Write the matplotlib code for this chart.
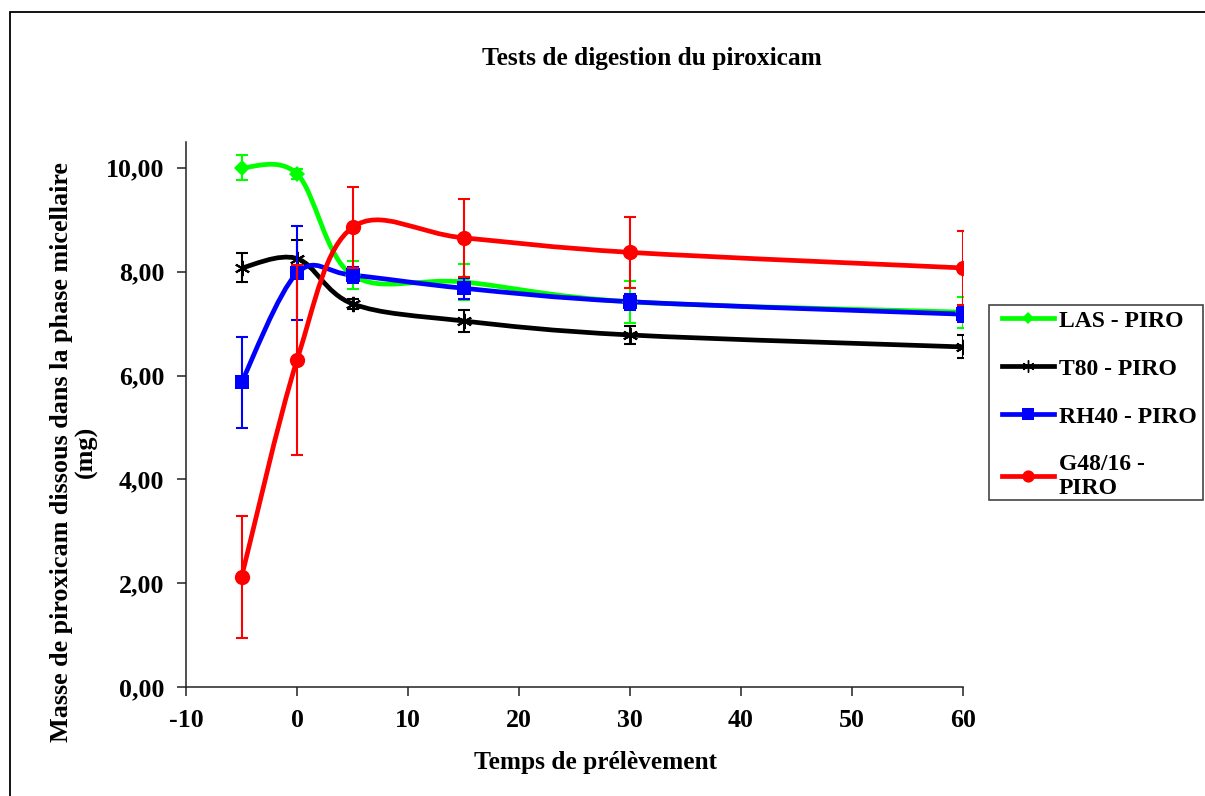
import numpy as np
import matplotlib.pyplot as plt
from matplotlib.path import Path
from matplotlib.patches import PathPatch, Rectangle
from matplotlib.lines import Line2D
from matplotlib.ticker import FuncFormatter

plt.rcParams['font.family'] = ['Liberation Serif', 'DejaVu Serif']
plt.rcParams['font.weight'] = 'bold'
plt.rcParams['axes.unicode_minus'] = False

# temps de prélèvement
temps = [-5, 0, 5, 15, 30, 60]

# masses moyennes (mg) et écarts-types
las = [10.00, 9.88, 7.93, 7.80, 7.42, 7.22]
las_err = [0.24, 0.10, 0.27, 0.35, 0.40, 0.30]
t80 = [8.07, 8.25, 7.38, 7.05, 6.78, 6.55]
t80_err = [0.28, 0.35, 0.10, 0.22, 0.18, 0.22]
rh40 = [5.87, 7.97, 7.93, 7.68, 7.42, 7.18]
rh40_err = [0.88, 0.90, 0.15, 0.20, 0.15, 0.15]
g48 = [2.12, 6.30, 8.85, 8.65, 8.37, 8.07]
g48_err = [1.18, 1.83, 0.78, 0.75, 0.68, 0.72]

series = [
    ("LAS - PIRO", las, las_err, "#00ff00", "D", 8),
    ("T80 - PIRO", t80, t80_err, "black", (6, 2, 0), 11),
    ("RH40 - PIRO", rh40, rh40_err, "#0000ff", "s", 10),
    ("G48/16 - \nPIRO", g48, g48_err, "#ff0000", "o", 11),
]


def smooth_path(x, y):
    # courbe lissée façon Excel (Catmull-Rom en Bézier)
    pts = np.column_stack([x, y]).astype(float)
    n = len(pts)
    verts = [pts[0]]
    codes = [Path.MOVETO]
    for i in range(n - 1):
        p0 = pts[i - 1] if i > 0 else pts[i]
        p1 = pts[i]
        p2 = pts[i + 1]
        p3 = pts[i + 2] if i + 2 < n else pts[i + 1]
        verts += [p1 + (p2 - p0) / 6, p2 - (p3 - p1) / 6, p2]
        codes += [Path.CURVE4] * 3
    return Path(verts, codes)


fig = plt.figure(figsize=(12.05, 7.96), dpi=100)
ax = fig.add_axes([0.1544, 0.1366, 0.6448, 0.6854])

handles = []
for label, vals, err, color, marker, ms in series:
    ax.errorbar(temps, vals, yerr=err, fmt="none", ecolor=color, elinewidth=1.5,
                capsize=4.5, capthick=1.5)
    ax.add_patch(PathPatch(smooth_path(temps, vals), facecolor="none",
                           edgecolor=color, lw=3.4))
    mew = 1.5 if marker == (6, 2, 0) else 0
    ax.plot(temps, vals, ls="none", marker=marker, ms=ms, color=color,
            mec=color, mew=mew)
    handles.append(Line2D([], [], color=color, lw=3.4, marker=marker,
                          ms=ms * 0.8, mec=color, mew=1.0 if mew else 0, label=label))

ax.set_xlim(-10, 60)
ax.set_ylim(0, 10.5)
ax.set_xticks(range(-10, 61, 10))
ax.set_yticks(range(0, 11, 2))
ax.yaxis.set_major_formatter(FuncFormatter(lambda v, p: f"{v:.2f}".replace(".", ",")))
for s in ["top", "right"]:
    ax.spines[s].set_visible(False)
for s in ["left", "bottom"]:
    ax.spines[s].set_linewidth(1.1)
    ax.spines[s].set_color("#222222")
ax.tick_params(direction="out", length=6.5, width=1.1, color="#222222",
               labelsize=18.6, pad=9)

fig.text(652 / 1205, 1 - 58 / 796, "Tests de digestion du piroxicam",
         ha="center", va="center", fontsize=18.3, fontweight="bold")
fig.text(596 / 1205, 1 - 762 / 796, "Temps de prélèvement",
         ha="center", va="center", fontsize=18.3, fontweight="bold")
fig.text(74 / 1205, 1 - 452 / 796,
         "Masse de piroxicam dissous dans la phase micellaire\n(mg)",
         ha="center", va="center", rotation=90, multialignment="center",
         fontsize=18.8, fontweight="bold", linespacing=1.1)

# cadre de la légende
fig.patches.append(Rectangle((989 / 1205, 1 - 500 / 796), 214 / 1205, 195 / 796,
                             transform=fig.transFigure, facecolor="white",
                             edgecolor="#444444", lw=1.2))
fig.legend(handles=handles, loc="upper left",
           bbox_to_anchor=(988 / 1205, 1 - 296 / 796), frameon=False,
           fontsize=17, handlelength=2.2, handletextpad=0.2,
           labelspacing=1.12, borderpad=0.1)

# cadre extérieur
fig.patches.append(Rectangle((10 / 1205, -0.1), 1.2, 1 - 12 / 796 + 0.1,
                             transform=fig.transFigure, facecolor="none",
                             edgecolor="black", lw=1.3))

fig.savefig("out.png", dpi=100)
